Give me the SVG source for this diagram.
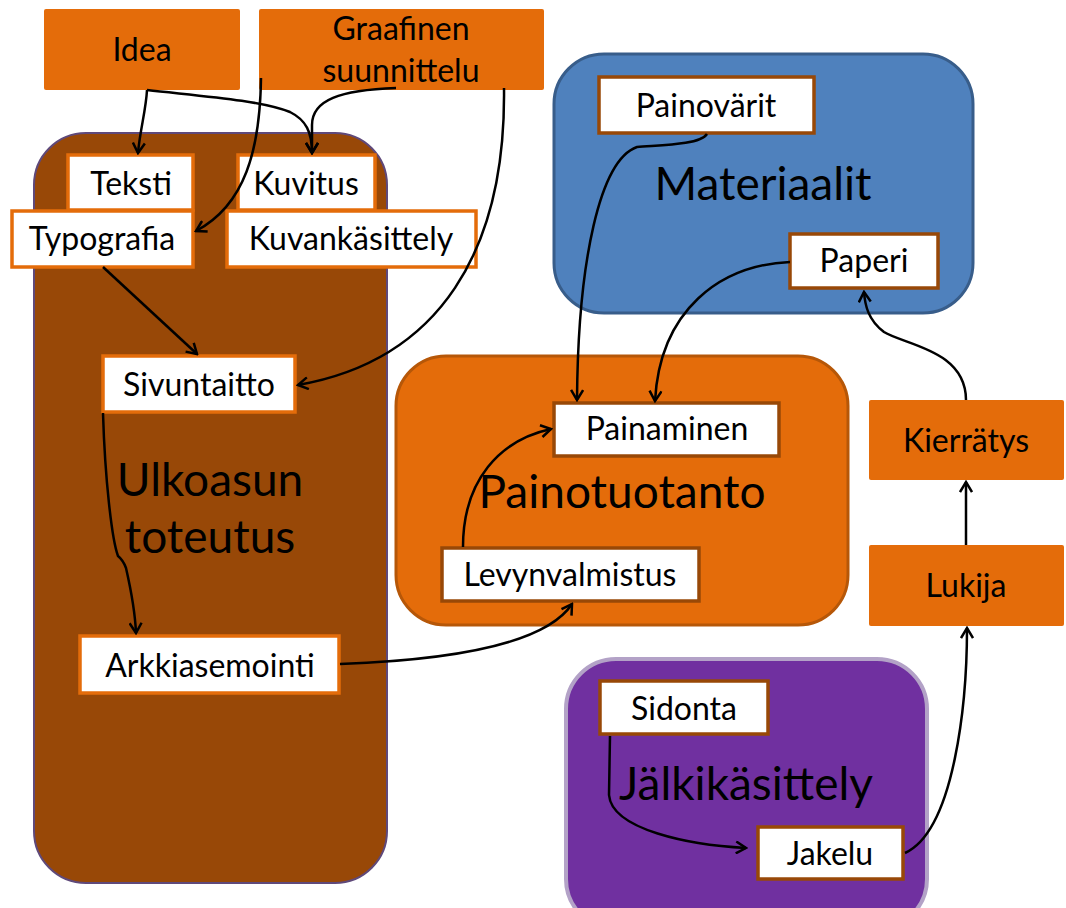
<svg xmlns="http://www.w3.org/2000/svg" width="1066" height="908" viewBox="0 0 1066 908">
<style>
text{font-family:Lato,"Open Sans",sans-serif;fill:#000;text-anchor:middle}
.lbl{font-size:32px}
.big{font-size:46px}
.top{fill:#E46C0A}
.wo{fill:#fff;stroke:#E46C0A;stroke-width:3.5}
.wb{fill:#fff;stroke:#984807;stroke-width:3.5}
.c{fill:none;stroke:#000;stroke-width:2.5;marker-end:url(#ah)}
</style>
<defs>
<marker id="ah" viewBox="0 0 14 14" refX="12" refY="7" markerWidth="14" markerHeight="14" markerUnits="userSpaceOnUse" orient="auto">
<path d="M2,1 L12,7 L2,13" fill="none" stroke="#000" stroke-width="2.5"/>
</marker>
</defs>
<rect width="1066" height="908" fill="#fff"/>
<g id="ulkoasun-toteutus">
<rect x="34" y="133" width="353" height="750" rx="52" fill="#984807" stroke="#5F497A" stroke-width="2"/>
<text class="big" x="210" y="496">Ulkoasun</text>
<text class="big" x="210" y="553">toteutus</text>
</g>
<g id="materiaalit">
<rect x="554" y="54" width="419" height="259" rx="50" fill="#4F81BD" stroke="#385D8A" stroke-width="3"/>
<text class="big" x="763" y="200">Materiaalit</text>
</g>
<g id="painotuotanto">
<rect x="396" y="356" width="452" height="269" rx="50" fill="#E46C0A" stroke="#B65708" stroke-width="3"/>
<text class="big" x="622" y="508">Painotuotanto</text>
</g>
<g id="jalkikasittely">
<rect x="566" y="659" width="361" height="270" rx="50" fill="#7030A0" stroke="#B3A2C7" stroke-width="4"/>
<text class="big" x="746" y="800">Jälkikäsittely</text>
</g>
<g id="idea"><rect class="top" x="44" y="9" width="196" height="81" rx="2"/><text class="lbl" x="142" y="61">Idea</text></g>
<g id="graafinen"><rect class="top" x="259" y="9" width="285" height="81" rx="2"/><text class="lbl" x="401" y="40">Graafinen</text><text class="lbl" x="401" y="82">suunnittelu</text></g>
<g id="kierratys"><rect class="top" x="869" y="400" width="195" height="80" rx="2"/><text class="lbl" x="966" y="452">Kierrätys</text></g>
<g id="lukija"><rect class="top" x="869" y="545" width="195" height="81" rx="2"/><text class="lbl" x="966" y="597">Lukija</text></g>
<g id="teksti"><rect class="wo" x="68" y="155" width="125" height="55"/><text class="lbl" x="131" y="195">Teksti</text></g>
<g id="kuvitus"><rect class="wo" x="238" y="155" width="137" height="55"/><text class="lbl" x="306" y="195">Kuvitus</text></g>
<g id="typografia"><rect class="wo" x="12" y="211" width="181" height="56"/><text class="lbl" x="102" y="250">Typografia</text></g>
<g id="kuvankasittely"><rect class="wo" x="227" y="211" width="249" height="56"/><text class="lbl" x="351" y="250">Kuvankäsittely</text></g>
<g id="sivuntaitto"><rect class="wo" x="103" y="356" width="192" height="56"/><text class="lbl" x="199" y="396">Sivuntaitto</text></g>
<g id="arkkiasemointi"><rect class="wo" x="80" y="636" width="259" height="57"/><text class="lbl" x="210" y="677">Arkkiasemointi</text></g>
<g id="painovarit"><rect class="wb" x="599" y="77" width="215" height="56"/><text class="lbl" x="706" y="117">Painovärit</text></g>
<g id="paperi"><rect class="wb" x="790" y="234" width="148" height="54"/><text class="lbl" x="864" y="272">Paperi</text></g>
<g id="painaminen"><rect class="wb" x="554" y="403" width="225" height="53"/><text class="lbl" x="667" y="440">Painaminen</text></g>
<g id="levynvalmistus"><rect class="wb" x="442" y="548" width="257" height="53"/><text class="lbl" x="570" y="586">Levynvalmistus</text></g>
<g id="sidonta"><rect class="wb" x="600" y="681" width="168" height="53"/><text class="lbl" x="684" y="720">Sidonta</text></g>
<g id="jakelu"><rect class="wb" x="758" y="827" width="145" height="52"/><text class="lbl" x="830" y="865">Jakelu</text></g>
<g id="connectors">
<path class="c" d="M147,90 C146,110 140,130 138,153"/>
<path class="c" d="M147,90 C200,96 260,100 290,112 C306,120 312,132 312,153"/>
<path class="c" d="M396,88 C340,90 312,100 312,125 L312,153"/>
<path class="c" d="M261,78 C260,150 245,205 196,231"/>
<path class="c" d="M504,88 C506,250 440,360 298,385"/>
<path class="c" d="M103,267 L197,354"/>
<path class="c" d="M103,413 C105,480 112,540 118,556 Q123,560 126,568 C131,590 135,610 136,633"/>
<path class="c" d="M340,664 C450,660 545,645 572,604"/>
<path class="c" d="M463,547 C463,480 500,440 551,429"/>
<path class="c" d="M707,134 C700,145 660,145 637,147 C600,160 578,260 577,400"/>
<path class="c" d="M790,262 C720,265 660,310 655,401"/>
<path class="c" d="M966,400 C966,350 905,345 884,332 C868,320 865,305 864,292"/>
<path class="c" d="M966,545 L966,482"/>
<path class="c" d="M905,853 C955,830 967,700 967,628"/>
<path class="c" d="M610,736 L609,795 C612,830 690,845 746,848"/>
</g>
</svg>
